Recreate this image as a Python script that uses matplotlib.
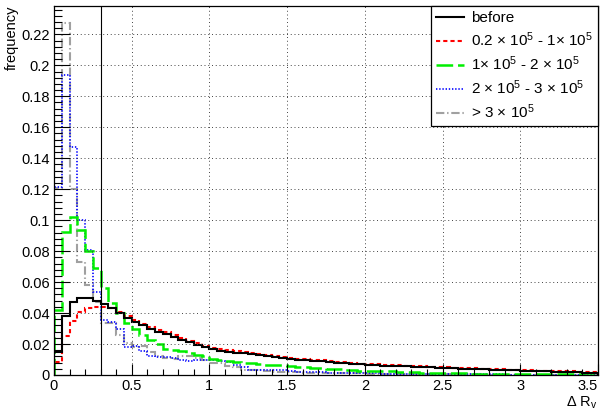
import numpy as np
import matplotlib
matplotlib.use("Agg")
from matplotlib import pyplot as plt
from matplotlib.lines import Line2D
from matplotlib.ticker import MultipleLocator, FormatStrFormatter

plt.rcParams['font.family'] = ['Liberation Sans', 'DejaVu Sans']
plt.rcParams['mathtext.default'] = 'regular'
plt.rcParams['lines.scale_dashes'] = False

# bin edges: 70 bins of width 0.05 from 0 to 3.5
edges = np.linspace(0, 3.5, 71)

before = [
    0.0150, 0.0380, 0.0470, 0.0500, 0.0500, 0.0480, 0.0460, 0.0430, 0.0400, 0.0370,
    0.0345, 0.0320, 0.0300, 0.0280, 0.0265, 0.0248, 0.0228, 0.0210, 0.0195, 0.0180,
    0.0166, 0.0158, 0.0150, 0.0143, 0.0139, 0.0134, 0.0127, 0.0120, 0.0114, 0.0108,
    0.0103, 0.0099, 0.0095, 0.0091, 0.0088, 0.0085, 0.0080, 0.0076, 0.0072, 0.0068,
    0.0065, 0.0063, 0.0061, 0.0059, 0.0057, 0.0055, 0.0053, 0.0051, 0.0049, 0.0046,
    0.0044, 0.0043, 0.0041, 0.0040, 0.0039, 0.0037, 0.0035, 0.0033, 0.0031, 0.0030,
    0.0028, 0.0027, 0.0025, 0.0024, 0.0022, 0.0020, 0.0019, 0.0018, 0.0016, 0.0015,
]
r_02_1 = [
    0.0086, 0.0250, 0.0350, 0.0410, 0.0430, 0.0440, 0.0440, 0.0430, 0.0410, 0.0380,
    0.0355, 0.0330, 0.0310, 0.0290, 0.0275, 0.0260, 0.0240, 0.0220, 0.0205, 0.0190,
    0.0177, 0.0168, 0.0160, 0.0153, 0.0147, 0.0142, 0.0135, 0.0128, 0.0121, 0.0115,
    0.0110, 0.0106, 0.0101, 0.0097, 0.0094, 0.0091, 0.0086, 0.0082, 0.0078, 0.0074,
    0.0071, 0.0069, 0.0066, 0.0064, 0.0062, 0.0060, 0.0058, 0.0056, 0.0054, 0.0051,
    0.0049, 0.0048, 0.0046, 0.0044, 0.0043, 0.0041, 0.0039, 0.0037, 0.0035, 0.0034,
    0.0032, 0.0031, 0.0029, 0.0027, 0.0026, 0.0024, 0.0023, 0.0021, 0.0020, 0.0019,
]
r_1_2 = [
    0.0420, 0.0926, 0.1020, 0.0936, 0.0800, 0.0690, 0.0564, 0.0467, 0.0400, 0.0338,
    0.0300, 0.0260, 0.0226, 0.0200, 0.0170, 0.0160, 0.0155, 0.0140, 0.0130, 0.0125,
    0.0103, 0.0098, 0.0090, 0.0086, 0.0080, 0.0075, 0.0070, 0.0067, 0.0065, 0.0063,
    0.0057, 0.0054, 0.0052, 0.0048, 0.0043, 0.0041, 0.0036, 0.0033, 0.0030, 0.0028,
    0.0027, 0.0026, 0.0025, 0.0023, 0.0021, 0.0018, 0.0017, 0.0016, 0.0015, 0.0012,
    0.0011, 0.0010, 0.0010, 0.0009, 0.0009, 0.0008, 0.0008, 0.0007, 0.0007, 0.0006,
    0.0006, 0.0006, 0.0005, 0.0005, 0.0005, 0.0004, 0.0004, 0.0004, 0.0003, 0.0003,
]
r_2_3 = [
    0.1216, 0.1937, 0.1474, 0.1000, 0.0810, 0.0538, 0.0355, 0.0344, 0.0300, 0.0180,
    0.0190, 0.0155, 0.0120, 0.0118, 0.0118, 0.0110, 0.0095, 0.0088, 0.0098, 0.0095,
    0.0095, 0.0088, 0.0084, 0.0066, 0.0052, 0.0034, 0.0031, 0.0035, 0.0034, 0.0033,
    0.0023, 0.0022, 0.0021, 0.0018, 0.0017, 0.0016, 0.0014, 0.0013, 0.0012, 0.0011,
    0.0010, 0.0010, 0.0009, 0.0009, 0.0008, 0.0008, 0.0007, 0.0007, 0.0006, 0.0006,
    0.0005, 0.0005, 0.0005, 0.0005, 0.0004, 0.0004, 0.0004, 0.0004, 0.0003, 0.0003,
    0.0003, 0.0003, 0.0003, 0.0002, 0.0002, 0.0002, 0.0002, 0.0002, 0.0002, 0.0002,
]
r_3 = [
    0.1207, 0.2270, 0.1200, 0.0730, 0.0580, 0.0470, 0.0336, 0.0335, 0.0260, 0.0206,
    0.0180, 0.0190, 0.0150, 0.0120, 0.0110, 0.0105, 0.0120, 0.0120, 0.0110, 0.0095,
    0.0080, 0.0075, 0.0060, 0.0050, 0.0035, 0.0032, 0.0030, 0.0025, 0.0022, 0.0020,
    0.0018, 0.0017, 0.0016, 0.0015, 0.0014, 0.0013, 0.0012, 0.0011, 0.0010, 0.0010,
    0.0009, 0.0009, 0.0008, 0.0008, 0.0007, 0.0007, 0.0006, 0.0006, 0.0006, 0.0005,
    0.0005, 0.0005, 0.0004, 0.0004, 0.0004, 0.0004, 0.0003, 0.0003, 0.0003, 0.0003,
    0.0003, 0.0002, 0.0002, 0.0002, 0.0002, 0.0002, 0.0002, 0.0002, 0.0002, 0.0002,
]

labels = [
    'before',
    r'0.2 $\times$ 10$^{5}$ - 1$\times$ 10$^{5}$',
    r'1$\times$ 10$^{5}$ - 2 $\times$ 10$^{5}$',
    r'2 $\times$ 10$^{5}$ - 3 $\times$ 10$^{5}$',
    r'> 3 $\times$ 10$^{5}$',
]
cut = 0.3

styles = [
    dict(color='black', lw=1.5, ls='-'),
    dict(color='#ff0000', lw=1.5, ls=(0, (3, 2.2))),
    dict(color='#00ee00', lw=1.8, ls=(0, (12, 3.5))),
    dict(color='#0000ff', lw=1.2, ls=(0, (1, 1.3))),
    dict(color='#a0a0a0', lw=1.5, ls=(0, (6, 2, 1, 2))),
]

fs = 10.5

fig = plt.figure(figsize=(6.06, 4.12), dpi=100)
ax = fig.add_axes([54 / 606, 37 / 412, 544 / 606, 369 / 412])

series = [before, r_02_1, r_1_2, r_2_3, r_3]
# draw the broad distributions last so the busy peaks don't cover "before"
for i in [4, 3, 2, 1, 0]:
    st = styles[i]
    ax.stairs(series[i], edges, color=st['color'], linewidth=st['lw'],
              linestyle=st['ls'], baseline=0)

ax.axvline(cut, color='black', lw=0.8)

ax.set_xlim(0, 3.5)
ax.set_ylim(0, 0.2383)
ax.xaxis.set_major_locator(MultipleLocator(0.5))
ax.xaxis.set_minor_locator(MultipleLocator(0.1))
ax.yaxis.set_major_locator(MultipleLocator(0.02))
ax.yaxis.set_minor_locator(MultipleLocator(0.004))
ax.xaxis.set_major_formatter(FormatStrFormatter('%g'))
ax.yaxis.set_major_formatter(FormatStrFormatter('%g'))
ax.tick_params(which='both', direction='in', labelsize=fs, top=False, right=False)
ax.tick_params(axis='x', which='major', length=8, width=0.8, pad=3)
ax.tick_params(axis='x', which='minor', length=4, width=0.8)
ax.tick_params(axis='y', which='major', length=11.5, width=0.8, pad=3)
ax.tick_params(axis='y', which='minor', length=5.8, width=0.8)
ax.grid(which='major', color='#444444', lw=0.7, ls=(0, (0.7, 2.0)))
for sp in ax.spines.values():
    sp.set_linewidth(0.9)

ax.set_ylabel('frequency', fontsize=fs, loc='top', labelpad=2)
ax.set_xlabel(r'$\Delta$ R$_{v}$', fontsize=fs, loc='right', labelpad=1)

# keep the last x label ("3.5") inside the canvas
fig.canvas.draw()
for lab in ax.get_xticklabels():
    if lab.get_text() == '3.5':
        lab.set_horizontalalignment('right')

handles = [Line2D([], [], color=s['color'], lw=s['lw'], ls=s['ls']) for s in styles]
leg = ax.legend(handles, labels, loc='upper right', bbox_to_anchor=(1, 1),
                borderaxespad=0, fancybox=False, framealpha=1, edgecolor='black',
                fontsize=11, handlelength=1.8, handletextpad=0.45,
                labelspacing=0.35, borderpad=0.35)
leg.get_frame().set_linewidth(0.9)

fig.savefig('out.png', dpi=100)
